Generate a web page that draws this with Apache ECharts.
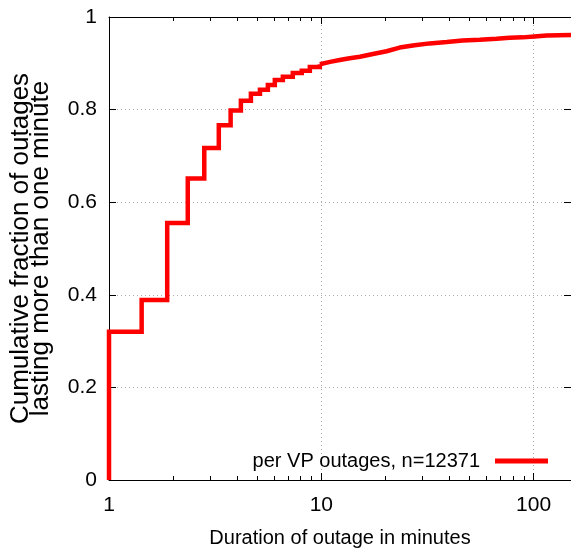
<!DOCTYPE html>
<html>
<head>
<meta charset="utf-8">
<script src="https://cdn.jsdelivr.net/npm/echarts@6/dist/echarts.min.js"></script>
<style>
html,body{margin:0;padding:0;background:#fff;}
#chart{width:571px;height:555px;}
</style>
</head>
<body>
<div id="chart"></div>
<script>
const seriesName = 'per VP outages, n=12371';
// stepped part (short outages)
const stepDurations = [1, 1, 1.425, 1.88, 2.35, 2.81, 3.29, 3.74, 4.18, 4.66, 5.14, 5.6, 6.04, 6.59, 7.34, 8.09, 8.83, 9.84];
const stepFractions = [0, 0.32, 0.389, 0.555, 0.651, 0.717, 0.766, 0.798, 0.819, 0.834, 0.843, 0.853, 0.864, 0.871, 0.879, 0.884, 0.892, 0.898];
// smooth tail (long outages)
const tailDurations = [9.84, 11, 12.2, 13.6, 15.2, 17.5, 20.3, 23.4, 27.5, 32.4, 39, 46.3, 55.7, 66.9, 77, 88.8, 101, 115, 150];
const tailFractions = [0.898, 0.903, 0.907, 0.911, 0.914, 0.92, 0.926, 0.934, 0.939, 0.943, 0.946, 0.949, 0.951, 0.953, 0.955, 0.956, 0.958, 0.960, 0.961];
const xMajorTicks = [1, 10, 100];
const xMinorTicks = [2, 3, 4, 5, 6, 7, 8, 9, 20, 30, 40, 50, 60, 70, 80, 90];
const xMin = 1, xMax = 150;
const yTickLabels = ['0', '0.2', '0.4', '0.6', '0.8', '1'];

const FONT = 'Liberation Sans';
const RED = '#ff0000';
const chart = echarts.init(document.getElementById('chart'), null, {renderer: 'canvas'});

function xAxisDef(pos, ticks, len, opts) {
  return Object.assign({
    type: 'log', logBase: 10, min: xMin, max: xMax, position: pos, offset: 0,
    gridIndex: 0,
    axisLine: {show: false, onZero: false},
    axisTick: {show: true, inside: true, length: len, customValues: ticks, lineStyle: {color: '#000', width: 1}},
    axisLabel: {show: false},
    splitLine: {show: false}
  }, opts || {});
}

const option = {
  animation: false,
  backgroundColor: '#fff',
  grid: {left: 109, right: -1, top: 17, bottom: 75, containLabel: false},
  legend: {
    data: [seriesName],
    right: 18, top: 446, align: 'right',
    icon: 'rect', itemWidth: 53, itemHeight: 5,
    textStyle: {fontFamily: FONT, fontSize: 20, color: '#000', padding: [0, 10, 0, 0]}
  },
  xAxis: [
    xAxisDef('bottom', xMajorTicks, 7, {
      axisLine: {show: true, onZero: false, lineStyle: {color: '#000', width: 1}},
      axisLabel: {show: true, customValues: xMajorTicks, margin: 15, fontFamily: FONT, fontSize: 21, color: '#000',
        formatter: v => String(Math.round(v))},
      splitLine: {show: true, lineStyle: {type: [1, 3], color: '#aaa', width: 1}},
      name: 'Duration of outage in minutes', nameLocation: 'middle', nameGap: 48,
      nameTextStyle: {fontFamily: FONT, fontSize: 20, color: '#000'}
    }),
    xAxisDef('bottom', xMinorTicks, 4),
    xAxisDef('top', xMajorTicks, 7, {axisLine: {show: true, onZero: false, lineStyle: {color: '#000', width: 1}}}),
    xAxisDef('top', xMinorTicks, 4)
  ],
  yAxis: [
    {
      type: 'value', min: 0, max: 1, interval: 0.2, position: 'left',
      axisLine: {show: true, onZero: false, lineStyle: {color: '#000', width: 1}},
      axisTick: {show: true, inside: true, length: 7, lineStyle: {color: '#000'}},
      axisLabel: {margin: 12, fontFamily: FONT, fontSize: 21, color: '#000',
        formatter: (v) => yTickLabels[Math.round(v / 0.2)]},
      splitLine: {show: true, lineStyle: {type: [1, 3], color: '#aaa', width: 1}},
      name: 'Cumulative fraction of outages\nlasting more than one minute',
      nameLocation: 'middle', nameRotate: 90, nameGap: 58,
      nameTextStyle: {fontFamily: FONT, fontSize: 26, lineHeight: 20, color: '#000', align: 'center'}
    },
    {
      type: 'value', min: 0, max: 1, interval: 0.2, position: 'right',
      axisLine: {show: true, onZero: false, lineStyle: {color: '#000', width: 1}},
      axisTick: {show: true, inside: true, length: 7, lineStyle: {color: '#000'}},
      axisLabel: {show: false},
      splitLine: {show: false}
    }
  ],
  series: [
    {
      name: seriesName, type: 'line', xAxisIndex: 0, yAxisIndex: 0,
      step: 'end', showSymbol: false, symbol: 'none',
      itemStyle: {color: RED}, lineStyle: {color: RED, width: 4.5, join: 'miter'},
      data: stepDurations.map((d, i) => [d, stepFractions[i]])
    },
    {
      name: seriesName, type: 'line', xAxisIndex: 0, yAxisIndex: 0,
      showSymbol: false, symbol: 'none',
      itemStyle: {color: RED}, lineStyle: {color: RED, width: 4.5},
      data: tailDurations.map((d, i) => [d, tailFractions[i]])
    }
  ]
};
chart.setOption(option);
</script>
</body>
</html>
